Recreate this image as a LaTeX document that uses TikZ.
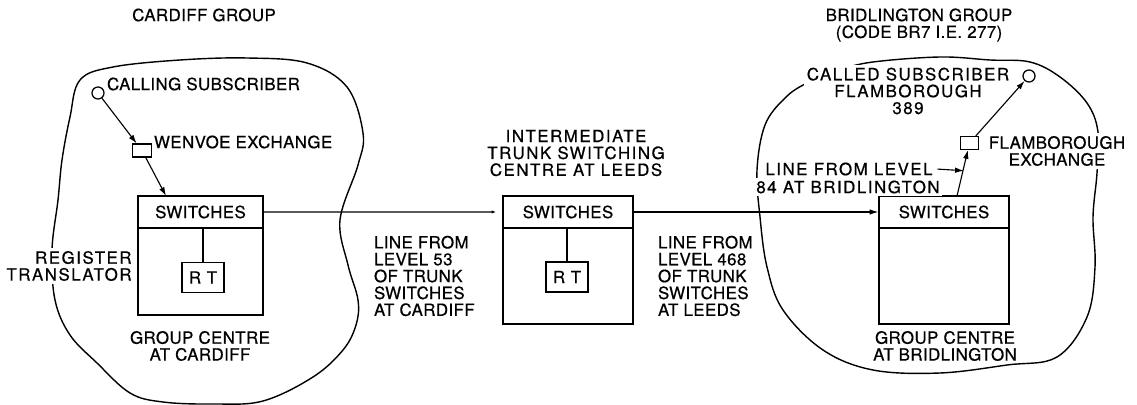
\documentclass[tikz,border=0pt]{standalone}
\usepackage{fontspec}
\setmainfont[LetterSpace=2.5, FakeBold=0.6]{TeX Gyre Heros}
\usetikzlibrary{positioning, arrows.meta, calc}

\begin{document}
\begin{tikzpicture}[
    x=0.025cm, y=-0.025cm,
    >={Latex[length=2.2mm, width=1.4mm]},
    font=\fontsize{12}{12}\selectfont,
    line width=0.9pt,
    centre/.style={draw, minimum width=3.25cm, minimum height=3.2cm, inner sep=0pt},
    swbox/.style={draw, anchor=north, minimum width=3.25cm, minimum height=0.8cm, inner sep=0pt},
    rtbox/.style={draw, minimum width=1.05cm, minimum height=0.75cm, inner sep=0pt},
    exch/.style={draw, minimum width=0.46cm, minimum height=0.32cm, inner sep=0pt},
    subs/.style={circle, draw, minimum size=0.3cm, inner sep=0pt},
    txt/.style={align=center, inner sep=1pt},
    mask/.style={fill=white, inner sep=2pt},
    wide/.style={font=\fontsize{12}{12}\selectfont\addfontfeature{LetterSpace=9}},
    link/.style={->, line width=0.8pt},
    blob/.style={line width=1pt}
]
\useasboundingbox (0,0) rectangle (1137,405);

% group outlines
\draw[blob] plot[smooth cycle, tension=0.6] coordinates {
    (80,80) (113,67) (180,60) (247,58) (307,63) (347,87) (363,133) (358,165)
    (340,220) (348,265) (358,300) (356,325) (343,350) (313,377) (263,401)
    (213,404) (163,402) (130,393) (97,363) (70,335) (55,300) (52,250)
    (58,200) (62,160) (70,117)};
\draw[blob] plot[smooth cycle, tension=0.6] coordinates {
    (807,83) (840,70) (873,62) (940,57) (990,60) (1030,62) (1060,77)
    (1087,103) (1098,132) (1097,173) (1093,217) (1095,267) (1087,317)
    (1057,357) (1007,365) (940,373) (873,370) (823,350) (783,310)
    (767,267) (760,217) (757,170) (765,125) (785,98)};

% headings
\node[txt] (cdfhead) at (204,15) {CARDIFF GROUP};
\node[txt] (brdhead) at (919,25) {BRIDLINGTON GROUP\\(CODE BR7 I.E. 277)};
\node[txt, wide] (ldshead) at (576,153) {INTERMEDIATE\\TRUNK SWITCHING\\CENTRE AT LEEDS};

% group centres
\node[centre, minimum width=3.125cm, minimum height=2.975cm] (cdf) at (200.5,255.5) {};
\node[swbox, minimum width=3.125cm] (cdfsw) at (cdf.north) {SWITCHES};
\node[rtbox] (cdfrt) at (203,277.5) {R\,\,T};
\draw (cdfrt.north) -- (cdfrt.north |- cdfsw.south);

\node[centre] (lds) at (568,260) {};
\node[swbox] (ldssw) at (lds.north) {SWITCHES};
\node[rtbox] (ldsrt) at (567,277) {R\,\,T};
\draw (ldsrt.north) -- (ldsrt.north |- ldssw.south);

\node[centre] (brd) at (944,260) {};
\node[swbox] (brdsw) at (brd.north) {SWITCHES};

% labels
\node[txt] (cdflbl) at (200,346) {GROUP CENTRE\\AT CARDIFF};
\node[txt] (brdlbl) at (945,346) {GROUP CENTRE\\AT BRIDLINGTON};
\node[txt, mask, wide, align=right, anchor=east] (regtr) at (135,266) {REGISTER\\TRANSLATOR};
\node[txt, align=left, anchor=west] (lvl53) at (372,276) {LINE FROM\\LEVEL 53\\OF TRUNK\\SWITCHES\\AT CARDIFF};
\node[txt, align=left, anchor=west] (lvl468) at (656,276) {LINE FROM\\LEVEL 468\\OF TRUNK\\SWITCHES\\AT LEEDS};

% subscribers and local exchanges
\node[subs] (cal) at (98,93) {};
\node[txt, anchor=west] (callbl) at (105,84) {CALLING SUBSCRIBER};
\node[exch] (wen) at (142,150.5) {};
\node[txt, anchor=west] (wenlbl) at (152,142) {WENVOE EXCHANGE};
\node[subs] (cld) at (1029,76) {};
\node[txt, mask, wide] (cldlbl) at (908,91) {CALLED SUBSCRIBER\\FLAMBOROUGH\\389};
\node[exch] (flx) at (969.5,143) {};
\node[txt, mask] (flxlbl) at (1057,151) {FLAMBOROUGH\\EXCHANGE};
\node[txt, mask, wide] (lvl84a) at (849,169) {LINE FROM LEVEL};
\node[txt, mask, wide] (lvl84b) at (848,187) {84 AT BRIDLINGTON};

% connections
\coordinate (cdfin) at (166,196);
\coordinate (brdout) at (957,196);
\draw[link] (cal) -- (wen);
\draw[link] (wen) -- (cdfin);
\draw[link, -{Latex[length=1.2mm, width=0.8mm]}, shorten >=1.5mm] (cdfsw.east) -- (ldssw.west);
\draw[link] (ldssw.east) -- (brdsw.west);
\draw[link] (brdout) -- (flx);
\draw[link] (flx) -- (cld);
\draw[link, shorten <=1pt] (lvl84a.east) -- ($(brdout)!0.55!(flx.south)$);
\end{tikzpicture}
\end{document}
